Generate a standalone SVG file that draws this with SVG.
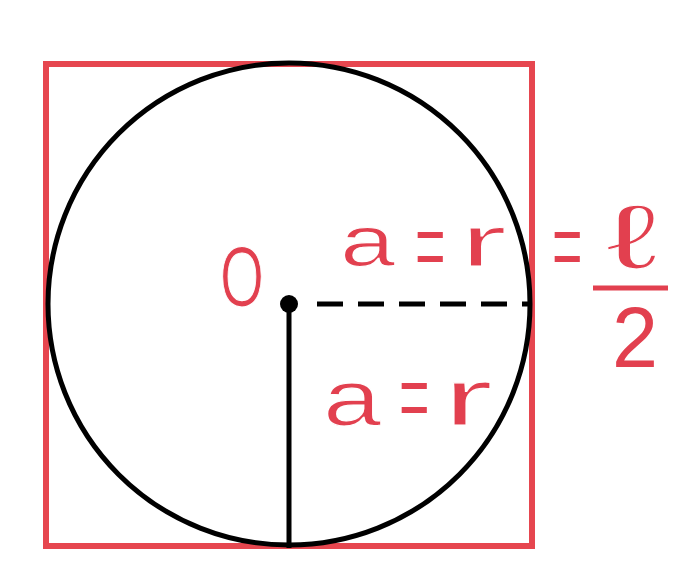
<svg xmlns="http://www.w3.org/2000/svg" width="678" height="561" viewBox="0 0 678 561">
<style>
.lbl{font-family:"Liberation Sans","DejaVu Sans",sans-serif;fill:#e2404f}
.thin{stroke:#fff;stroke-width:1.2}
.eq{font-family:"Liberation Serif",serif;fill:#e2404f;font-size:54px}
.blk{stroke:#000;stroke-width:5;fill:none}
</style>
<rect width="678" height="561" fill="#fff"/>
<g id="square"><rect x="46" y="64" width="486" height="482" fill="none" stroke="#e6464f" stroke-width="6"/></g>
<g id="circle"><circle cx="289" cy="304" r="241" class="blk"/></g>
<g id="connectors">
<line x1="317" y1="304" x2="531" y2="304" class="blk" stroke-dasharray="26,15"/>
<line x1="289" y1="304" x2="289" y2="548" class="blk"/>
<line x1="593" y1="288" x2="668" y2="288" stroke="#e2404f" stroke-width="5"/>
</g>
<g id="center"><circle cx="289" cy="304" r="9" fill="#000"/>
<text class="lbl thin" x="220" y="306" font-size="86" textLength="44" lengthAdjust="spacingAndGlyphs">O</text></g>
<g id="label-top">
<text class="lbl thin" x="340" y="266" font-size="72" textLength="55" lengthAdjust="spacingAndGlyphs">a</text>
<text class="eq" transform="translate(415,287) scale(1,2.2)">=</text>
<text class="lbl thin" x="460" y="266" font-size="72" textLength="47" lengthAdjust="spacingAndGlyphs">r</text>
<text class="eq" transform="translate(552,287) scale(1,2.2)">=</text>
<text class="lbl" x="606" y="268" font-size="90" stroke="#fff" stroke-width="1" textLength="52" lengthAdjust="spacingAndGlyphs">ℓ</text>
<text class="lbl" x="612" y="367" font-size="86" textLength="46" lengthAdjust="spacingAndGlyphs">2</text>
</g>
<g id="label-bottom">
<text class="lbl thin" x="323" y="425" font-size="78" textLength="58" lengthAdjust="spacingAndGlyphs">a</text>
<text class="eq" transform="translate(399,438) scale(1,2.2)">=</text>
<text class="lbl thin" x="443" y="425" font-size="80" textLength="50" lengthAdjust="spacingAndGlyphs">r</text>
</g>
</svg>
